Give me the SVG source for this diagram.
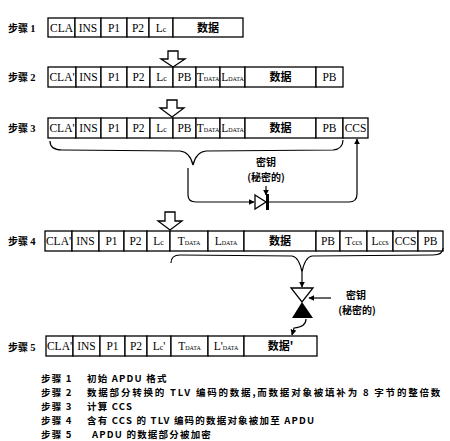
<svg xmlns="http://www.w3.org/2000/svg" width="450" height="441" viewBox="0 0 450 441">
<style>
.c{fill:#fff;stroke:#000;stroke-width:1.3}
.t{font-family:"Liberation Serif",serif;font-size:11.5px;text-anchor:middle;fill:#000}
.s{font-size:6px}
.m{font-size:8px}
.z{font-family:"Noto Sans CJK SC",sans-serif;font-size:11px;text-anchor:middle;font-weight:bold;fill:#000}
.k{font-family:"Noto Sans CJK SC",sans-serif;font-size:10px;text-anchor:middle;font-weight:bold;fill:#000}
.lab{font-family:"Noto Sans CJK SC",sans-serif;font-size:10px;font-weight:bold;fill:#000}
.num{font-family:"Liberation Serif",serif;font-size:10.5px;font-weight:bold}
.leg{font-family:"Noto Sans CJK SC",sans-serif;font-size:9.5px;fill:#000;font-weight:bold;letter-spacing:1.2px}
.ln{fill:none;stroke:#000;stroke-width:1.2}
.ha{fill:#fff;stroke:#000;stroke-width:1.3}
</style>
<defs>
<marker id="ah" viewBox="0 0 10 10" refX="9" refY="5" markerWidth="6" markerHeight="6" orient="auto" markerUnits="userSpaceOnUse"><path d="M0,0 L10,5 L0,10 Z" fill="#000"/></marker>
</defs>

<g id="labels">
<text class="lab" x="8" y="32">步骤 <tspan class="num">1</tspan></text>
<text class="lab" x="8" y="81">步骤 <tspan class="num">2</tspan></text>
<text class="lab" x="8" y="132">步骤 <tspan class="num">3</tspan></text>
<text class="lab" x="8" y="245">步骤 <tspan class="num">4</tspan></text>
<text class="lab" x="8" y="351">步骤 <tspan class="num">5</tspan></text>
</g>

<g id="step1">
<rect class="c" x="48" y="18" width="27" height="19"/><rect class="c" x="75" y="18" width="26" height="19"/><rect class="c" x="101" y="18" width="26" height="19"/><rect class="c" x="127" y="18" width="22" height="19"/><rect class="c" x="149" y="18" width="24" height="19"/><rect class="c" x="173" y="18" width="70" height="19"/>
<text class="t" x="61.5" y="31.5">CLA</text><text class="t" x="88" y="31.5">INS</text><text class="t" x="114" y="31.5">P1</text><text class="t" x="138" y="31.5">P2</text><text class="t" x="161" y="31.5">L<tspan class="m">c</tspan></text><text class="z" x="208" y="31.5">数据</text>
</g>

<g id="step2">
<rect class="c" x="48" y="67" width="28" height="20"/><rect class="c" x="76" y="67" width="25" height="20"/><rect class="c" x="101" y="67" width="26" height="20"/><rect class="c" x="127" y="67" width="23" height="20"/><rect class="c" x="150" y="67" width="23" height="20"/><rect class="c" x="173" y="67" width="23" height="20"/><rect class="c" x="196" y="67" width="24" height="20"/><rect class="c" x="220" y="67" width="25" height="20"/><rect class="c" x="245" y="67" width="71" height="20"/><rect class="c" x="316" y="67" width="27" height="20"/>
<text class="t" x="62" y="81">CLA'</text><text class="t" x="88.5" y="81">INS</text><text class="t" x="114" y="81">P1</text><text class="t" x="138.5" y="81">P2</text><text class="t" x="161.5" y="81">L<tspan class="m">c</tspan></text><text class="t" x="184.5" y="81">PB</text><text class="t" x="208" y="81">T<tspan class="s">DATA</tspan></text><text class="t" x="232.5" y="81">L<tspan class="s">DATA</tspan></text><text class="z" x="280.5" y="81">数据</text><text class="t" x="329.5" y="81">PB</text>
</g>

<g id="step3">
<rect class="c" x="48" y="118" width="28" height="20"/><rect class="c" x="76" y="118" width="25" height="20"/><rect class="c" x="101" y="118" width="26" height="20"/><rect class="c" x="127" y="118" width="23" height="20"/><rect class="c" x="150" y="118" width="23" height="20"/><rect class="c" x="173" y="118" width="23" height="20"/><rect class="c" x="196" y="118" width="24" height="20"/><rect class="c" x="220" y="118" width="25" height="20"/><rect class="c" x="245" y="118" width="71" height="20"/><rect class="c" x="316" y="118" width="27" height="20"/><rect class="c" x="343" y="118" width="25" height="20"/>
<text class="t" x="62" y="132">CLA'</text><text class="t" x="88.5" y="132">INS</text><text class="t" x="114" y="132">P1</text><text class="t" x="138.5" y="132">P2</text><text class="t" x="161.5" y="132">L<tspan class="m">c</tspan></text><text class="t" x="184.5" y="132">PB</text><text class="t" x="208" y="132">T<tspan class="s">DATA</tspan></text><text class="t" x="232.5" y="132">L<tspan class="s">DATA</tspan></text><text class="z" x="280.5" y="132">数据</text><text class="t" x="329.5" y="132">PB</text><text class="t" x="355.5" y="132">CCS</text>
</g>

<g id="step4">
<rect class="c" x="45" y="231" width="27" height="20"/><rect class="c" x="72" y="231" width="27" height="20"/><rect class="c" x="99" y="231" width="25" height="20"/><rect class="c" x="124" y="231" width="23" height="20"/><rect class="c" x="147" y="231" width="23" height="20"/><rect class="c" x="170" y="231" width="38" height="20"/><rect class="c" x="208" y="231" width="36" height="20"/><rect class="c" x="244" y="231" width="72" height="20"/><rect class="c" x="316" y="231" width="24" height="20"/><rect class="c" x="340" y="231" width="27" height="20"/><rect class="c" x="367" y="231" width="26" height="20"/><rect class="c" x="393" y="231" width="25" height="20"/><rect class="c" x="418" y="231" width="25" height="20"/>
<text class="t" x="58.5" y="245">CLA'</text><text class="t" x="85.5" y="245">INS</text><text class="t" x="111.5" y="245">P1</text><text class="t" x="135.5" y="245">P2</text><text class="t" x="158.5" y="245">L<tspan class="m">c</tspan></text><text class="t" x="189" y="245">T<tspan class="s">DATA</tspan></text><text class="t" x="226" y="245">L<tspan class="s">DATA</tspan></text><text class="z" x="280" y="245">数据</text><text class="t" x="328" y="245">PB</text><text class="t" x="353.5" y="245">T<tspan class="m">ccs</tspan></text><text class="t" x="380" y="245">L<tspan class="m">ccs</tspan></text><text class="t" x="405.5" y="245">CCS</text><text class="t" x="430.5" y="245">PB</text>
</g>

<g id="step5">
<rect class="c" x="46" y="336" width="27" height="20"/><rect class="c" x="73" y="336" width="27" height="20"/><rect class="c" x="100" y="336" width="25" height="20"/><rect class="c" x="125" y="336" width="22" height="20"/><rect class="c" x="147" y="336" width="24" height="20"/><rect class="c" x="171" y="336" width="37" height="20"/><rect class="c" x="208" y="336" width="36" height="20"/><rect class="c" x="244" y="336" width="73" height="20"/>
<text class="t" x="59.5" y="350">CLA'</text><text class="t" x="86.5" y="350">INS</text><text class="t" x="112.5" y="350">P1</text><text class="t" x="136" y="350">P2</text><text class="t" x="159" y="350">L<tspan class="m">c</tspan>'</text><text class="t" x="189.5" y="350">T<tspan class="s">DATA</tspan></text><text class="t" x="226" y="350">L'<tspan class="s">DATA</tspan></text><text class="z" x="280.5" y="350">数据'</text>
</g>

<g id="key1">
<text class="k" x="266" y="166">密钥</text>
<text class="k" x="266" y="181">(秘密的)</text>
<path d="M255,195 L266,202 L255,209 Z" fill="#fff" stroke="#000" stroke-width="1.3"/>
<rect x="266" y="194" width="3" height="16" fill="#000"/>
</g>

<g id="key2">
<path d="M291,288 L313,288 L302,302 Z" fill="#fff" stroke="#000" stroke-width="1.3"/>
<path d="M302,302 L313,318 L292,318 Z" fill="#000"/>
<text class="k" x="356" y="299">密钥</text>
<text class="k" x="357" y="314">(秘密的)</text>
</g>

<g id="connectors">
<path class="ha" d="M168,51 L178,51 L178,59 L185,59 L173,67 L161,59 L168,59 Z"/>
<path class="ha" d="M167,100 L177,100 L177,108 L184,108 L172,117 L160,108 L167,108 Z"/>
<path class="ha" d="M165,212 L175,212 L175,221 L182,221 L170,230 L158,221 L165,221 Z"/>
<path class="ln" d="M50,141 Q50,150 62,150 L180,151 Q190,152 193,165 Q196,152 206,151 L333,150 Q343,149 343,140"/>
<path class="ln" d="M188,168 L188,195 Q188,202 196,202 L254,202" marker-end="url(#ah)"/>
<path class="ln" d="M269,202 L349,202 Q357,202 357,194 L357,139" marker-end="url(#ah)"/>
<path class="ln" d="M266,186 L266,195" marker-end="url(#ah)"/>
<path class="ln" d="M171,263 Q171,255 180,255 L292,256 Q299,257 302,272 Q305,257 312,256 L433,255 Q443,255 443,248"/>
<path class="ln" d="M302,272 L302,287" marker-end="url(#ah)"/>
<path class="ln" d="M331,298 L309,298" marker-end="url(#ah)"/>
<path class="ln" d="M306,319 Q306,327 294,328 L292,335" marker-end="url(#ah)"/>
</g>

<g id="legend">
<text class="leg" x="41" y="382">步骤 1</text><text class="leg" x="87" y="382">初始 APDU 格式</text>
<text class="leg" x="41" y="396">步骤 2</text><text class="leg" x="87" y="396" style="letter-spacing:1.8px">数据部分转换的 TLV 编码的数据,而数据对象被填补为 8 字节的整倍数</text>
<text class="leg" x="41" y="410">步骤 3</text><text class="leg" x="87" y="410">计算 CCS</text>
<text class="leg" x="41" y="424">步骤 4</text><text class="leg" x="87" y="424">含有 CCS 的 TLV 编码的数据对象被加至 APDU</text>
<text class="leg" x="41" y="438">步骤 5</text><text class="leg" x="92" y="438">APDU 的数据部分被加密</text>
</g>
</svg>
